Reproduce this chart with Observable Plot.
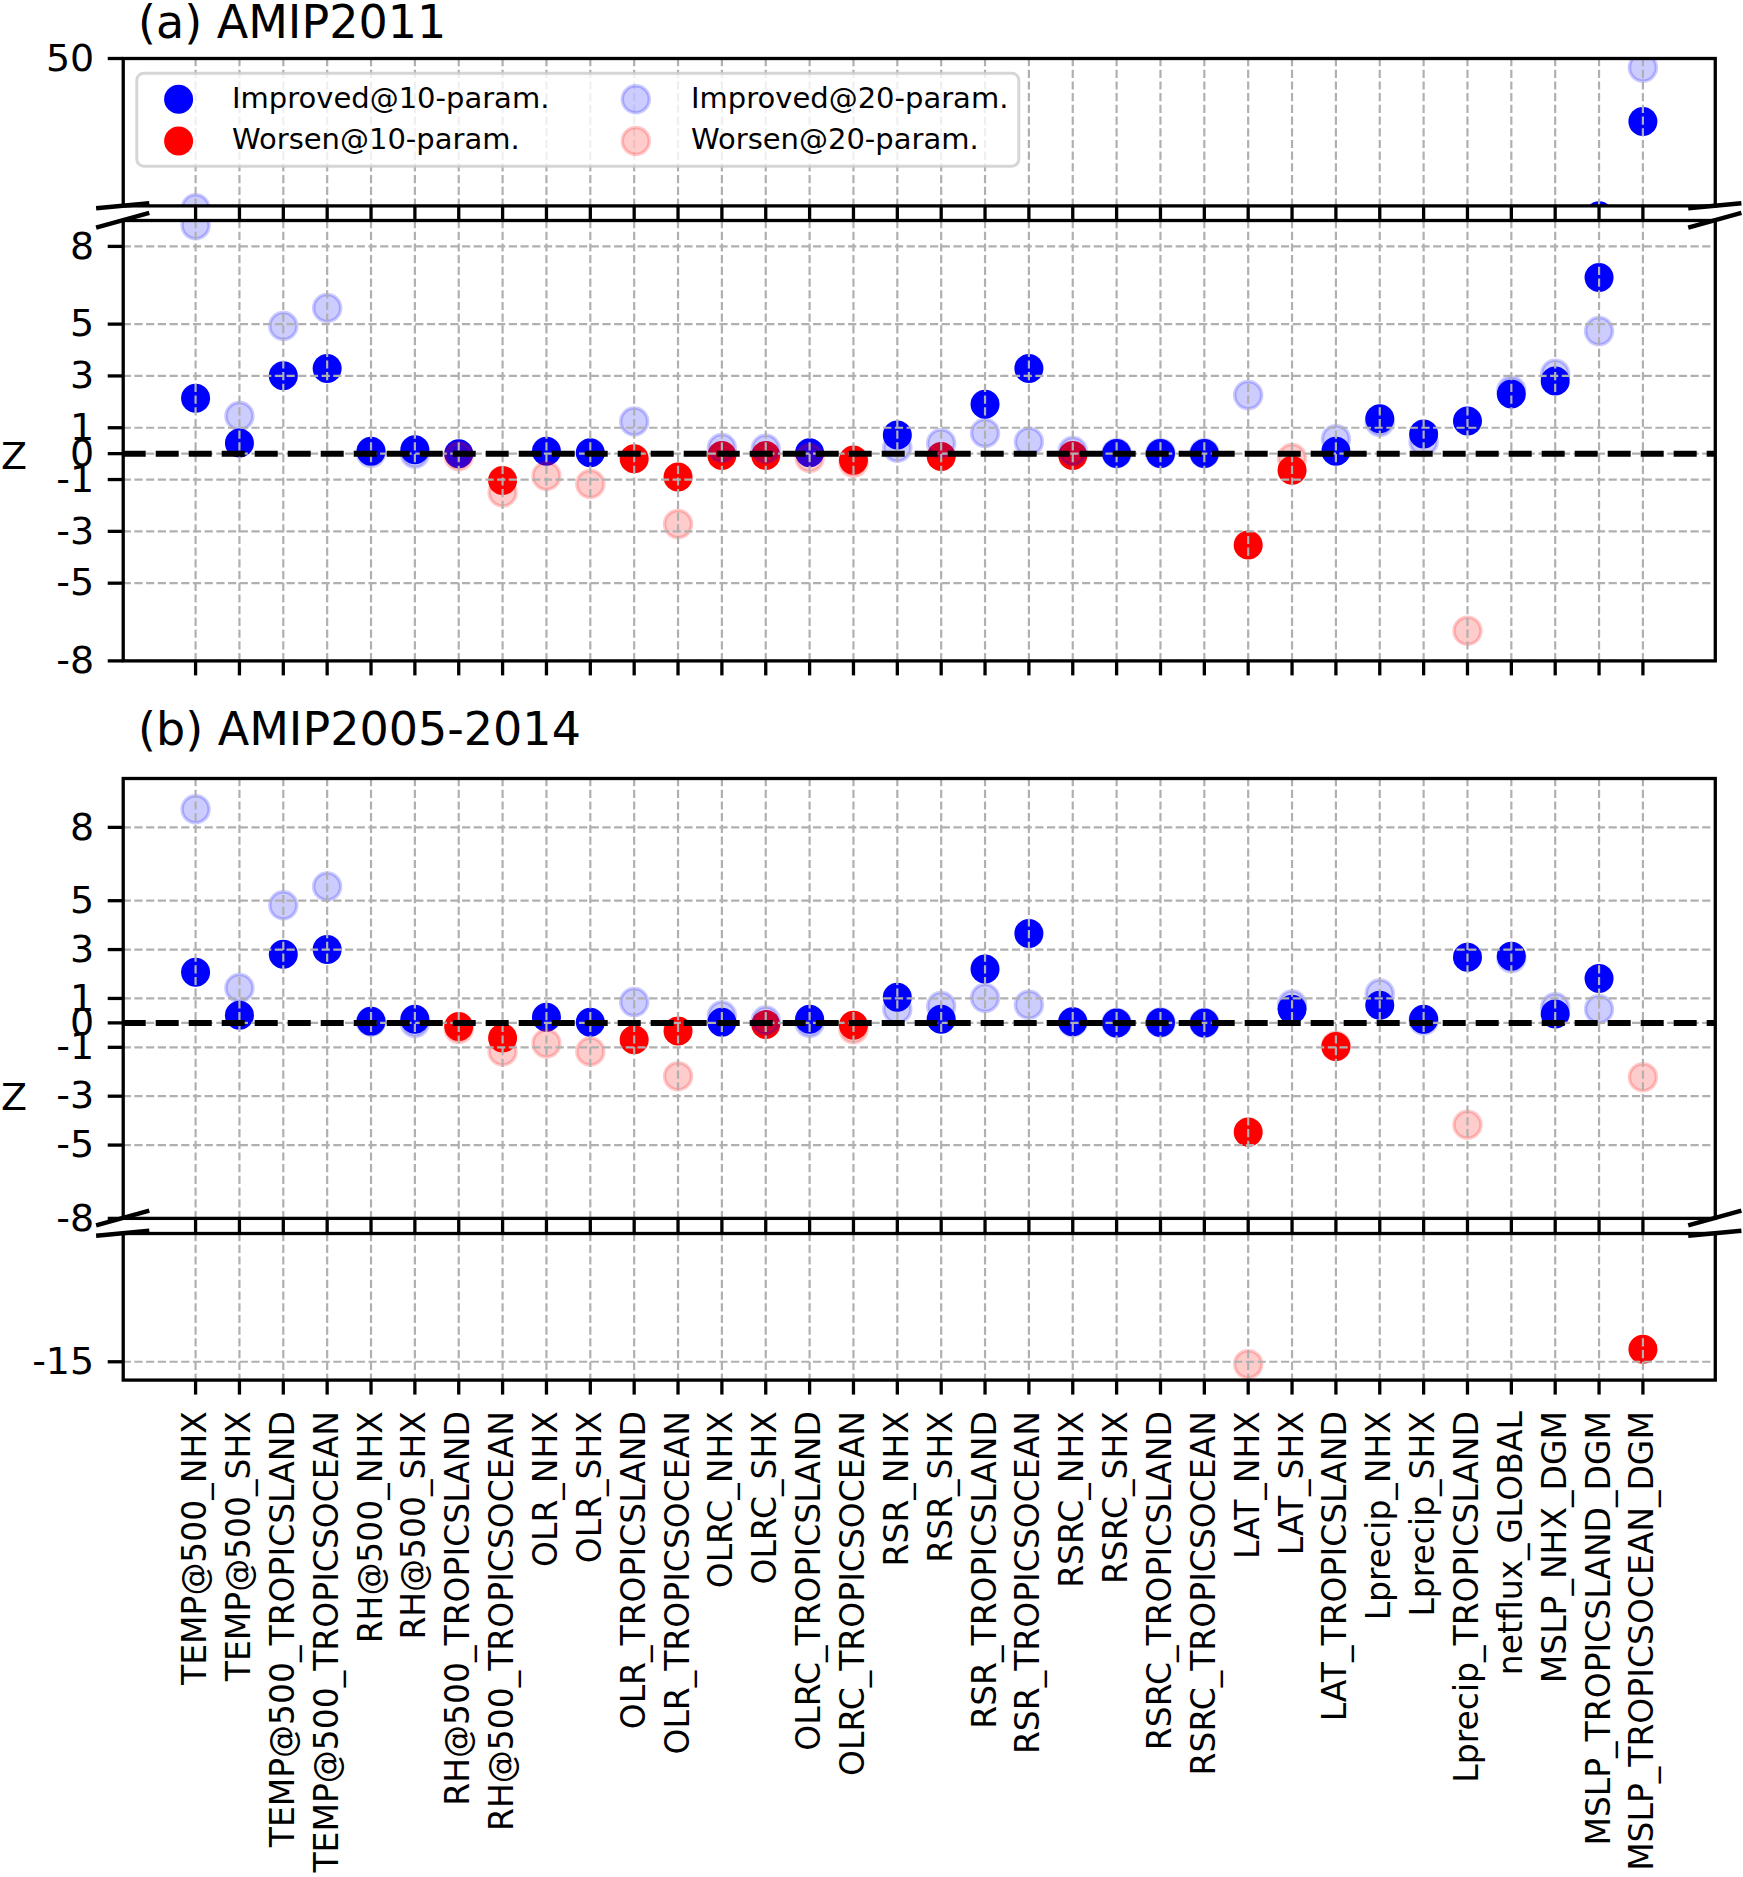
<!DOCTYPE html>
<html><head><meta charset="utf-8">
<script src="https://cdn.jsdelivr.net/npm/d3@7"></script>
<script src="https://cdn.jsdelivr.net/npm/@observablehq/plot@0.6"></script>
<style>
body{margin:0;background:#fff;}
#fig{position:relative;width:1743px;height:1877px;background:#fff;overflow:hidden;}
#fig svg{position:absolute;left:0;overflow:visible;}
</style></head><body><div id="fig"></div>
<script>
// ---------------- data ----------------
const categories = [
  "TEMP@500_NHX","TEMP@500_SHX","TEMP@500_TROPICSLAND","TEMP@500_TROPICSOCEAN",
  "RH@500_NHX","RH@500_SHX","RH@500_TROPICSLAND","RH@500_TROPICSOCEAN",
  "OLR_NHX","OLR_SHX","OLR_TROPICSLAND","OLR_TROPICSOCEAN",
  "OLRC_NHX","OLRC_SHX","OLRC_TROPICSLAND","OLRC_TROPICSOCEAN",
  "RSR_NHX","RSR_SHX","RSR_TROPICSLAND","RSR_TROPICSOCEAN",
  "RSRC_NHX","RSRC_SHX","RSRC_TROPICSLAND","RSRC_TROPICSOCEAN",
  "LAT_NHX","LAT_SHX","LAT_TROPICSLAND",
  "Lprecip_NHX","Lprecip_SHX","Lprecip_TROPICSLAND",
  "netflux_GLOBAL","MSLP_NHX_DGM","MSLP_TROPICSLAND_DGM","MSLP_TROPICSOCEAN_DGM"
];
// (a) AMIP2011
const amip2011_10param = [2.14,0.41,3.01,3.29, 0.09,0.15,0.0,-1.04, 0.09,0.03,-0.2,-0.9,
  -0.07,-0.07,0.03,-0.25, 0.72,-0.11,1.91,3.29, -0.07,0.01,0.01,0.01,
  -3.53,-0.64,0.09, 1.35,0.76,1.26, 2.3,2.8,6.8,32.7];
const amip2011_20param = [8.82,1.45,4.93,5.62, 0.03,0.0,-0.1,-1.5, -0.86,-1.17,1.24,-2.72,
  0.22,0.19,-0.17,-0.35, 0.23,0.4,0.8,0.46, 0.1,0.02,0.02,0.02,
  2.26,-0.17,0.56, 1.22,0.46,-6.84, 2.44,3.08,4.73,47.5];
// (b) AMIP2005-2014
const amip0514_10param = [2.07,0.31,2.81,3.0, 0.07,0.15,-0.15,-0.62, 0.23,0.03,-0.69,-0.33,
  0.03,-0.07,0.15,-0.1, 1.05,0.15,2.2,3.66, 0.05,0.0,0.02,0.0,
  -4.47,0.56,-0.97, 0.72,0.15,2.69, 2.73,0.36,1.82,-14.32];
const amip0514_20param = [8.74,1.43,4.81,5.58, 0.05,0.0,-0.25,-1.17, -0.84,-1.17,0.85,-2.18,
  0.3,0.1,0.0,-0.26, 0.56,0.69,1.02,0.74, 0.03,0.0,0.02,0.0,
  -15.13,0.75,-0.95, 1.2,0.1,-4.17, 2.65,0.64,0.56,-2.22];

const ticksUpperA = [50];
const ticksMain = [8,5,3,1,0,-1,-3,-5,-8];
const ticksLowerB = [-15];
const legendLabels = ["Improved@10-param.","Worsen@10-param.","Improved@20-param.","Worsen@20-param."];
const titles = ["(a) AMIP2011","(b) AMIP2005-2014"];

// ---------------- layout ----------------
const W = 1743, ML = 122.7, MR = 28.2, MT = 30;
const FONT = "DejaVu Sans";
const fig = document.getElementById("fig");
const color = v => v >= 0 ? "blue" : "red";
const rows = arr => categories.map((c, i) => ({c, v: arr[i]}));

function panel({top, bottom, domain, ticks, d10, d20, zero, labels, mb}) {
  const h = bottom - top;
  const marks = [
    Plot.dot(rows(d10), {x: "c", y: "v", r: 14.5, fill: d => color(d.v), clip: true}),
    Plot.dot(rows(d20), {x: "c", y: "v", r: 13.5, fill: d => color(d.v), fillOpacity: 0.2,
      stroke: d => color(d.v), strokeOpacity: 0.2, strokeWidth: 3.5, clip: true}),
    Plot.gridX({stroke: "#b0b0b0", strokeOpacity: 1, strokeWidth: 2.2, strokeDasharray: "8.2,3.5"}),
    Plot.gridY(ticks, {stroke: "#b0b0b0", strokeOpacity: 1, strokeWidth: 2.2, strokeDasharray: "8.2,3.5"}),
  ];
  if (zero) marks.push(Plot.ruleY([0], {stroke: "black", strokeWidth: 6, strokeDasharray: "23,10"}));
  marks.push(
    Plot.frame({stroke: "black", strokeWidth: 3.3}),
    Plot.axisY(ticks, {tickSize: 15, tickPadding: 14, fontSize: 38, strokeWidth: 3.3,
      tickFormat: d => String(d), label: null}),
    Plot.axisX({tickSize: 15, strokeWidth: 3.3, label: null,
      tickFormat: labels ? (d => d) : (() => ""),
      tickRotate: labels ? -90 : 0, tickPadding: 16, fontSize: 33})
  );
  const svg = Plot.plot({
    width: W, height: MT + h + mb,
    marginTop: MT, marginBottom: mb, marginLeft: ML, marginRight: MR,
    x: {type: "point", domain: categories, padding: 1.65, round: false, label: null},
    y: {domain, label: null},
    color: {type: "identity"},
    style: {fontFamily: FONT, color: "black", background: "transparent", overflow: "visible"},
    marks
  });
  svg.style.top = (top - MT) + "px";
  fig.appendChild(svg);
}

const A_U = {top: 58.3, bottom: 205.7}, A_L = {top: 220.3, bottom: 660.7};
const B_U = {top: 778.1, bottom: 1218.0}, B_L = {top: 1233.3, bottom: 1379.9};

panel({...A_U, domain: [9.5, 50], ticks: ticksUpperA, d10: amip2011_10param, d20: amip2011_20param, zero: false, labels: false, mb: 20});
panel({...A_L, domain: [-8, 9], ticks: ticksMain, d10: amip2011_10param, d20: amip2011_20param, zero: true, labels: false, mb: 20});
panel({...B_U, domain: [-8, 10], ticks: ticksMain, d10: amip0514_10param, d20: amip0514_20param, zero: true, labels: false, mb: 20});
panel({...B_L, domain: [-16, -8], ticks: ticksLowerB, d10: amip0514_10param, d20: amip0514_20param, zero: false, labels: true, mb: 1877 - B_L.bottom});

// ---------------- decorations: titles, Z labels, legend, break marks ----------------
const ns = "http://www.w3.org/2000/svg";
const ov = document.createElementNS(ns, "svg");
ov.setAttribute("width", W); ov.setAttribute("height", 1877);
ov.style.top = "0px";
ov.style.fontFamily = FONT;
fig.appendChild(ov);
function el(tag, attrs, text) {
  const e = document.createElementNS(ns, tag);
  for (const k in attrs) e.setAttribute(k, attrs[k]);
  if (text != null) e.textContent = text;
  ov.appendChild(e);
  return e;
}
el("text", {x: 138, y: 38, "font-size": 46, fill: "black"}, titles[0]);
el("text", {x: 138, y: 745, "font-size": 46, fill: "black"}, titles[1]);
el("text", {x: 1, y: 468.5, "font-size": 38, fill: "black"}, "Z");
el("text", {x: 1, y: 1110, "font-size": 38, fill: "black"}, "Z");

// break marks
const xr = [ML, W - MR];
function brk(y, hAx) {
  const dx = 0.0167 * (W - ML - MR), dy = 0.0167 * hAx;
  for (const x of xr) el("line", {x1: x - dx, y1: y + dy, x2: x + dx, y2: y - dy, stroke: "black", "stroke-width": 4.5});
}
brk(A_U.bottom, A_U.bottom - A_U.top);
brk(A_L.top, A_L.bottom - A_L.top);
brk(B_U.bottom, B_U.bottom - B_U.top);
brk(B_L.top, B_L.bottom - B_L.top);

// legend
el("rect", {x: 136.8, y: 73.2, width: 882, height: 93, rx: 7, fill: "white", "fill-opacity": 0.8,
  stroke: "#cccccc", "stroke-opacity": 0.8, "stroke-width": 3});
const leg = [
  {cx: 178.6, cy: 99.3, tx: 232, ty: 107.5, c: "blue", light: false, t: legendLabels[0]},
  {cx: 178.6, cy: 141, tx: 232, ty: 149, c: "red", light: false, t: legendLabels[1]},
  {cx: 635.8, cy: 99.3, tx: 691, ty: 107.5, c: "blue", light: true, t: legendLabels[2]},
  {cx: 635.8, cy: 141, tx: 691, ty: 149, c: "red", light: true, t: legendLabels[3]},
];
for (const g of leg) {
  if (g.light) el("circle", {cx: g.cx, cy: g.cy, r: 13.5, fill: g.c, "fill-opacity": 0.2, stroke: g.c, "stroke-opacity": 0.2, "stroke-width": 3.5});
  else el("circle", {cx: g.cx, cy: g.cy, r: 14.5, fill: g.c});
  el("text", {x: g.tx, y: g.ty, "font-size": 29, fill: "black"}, g.t);
}
</script></body></html>
